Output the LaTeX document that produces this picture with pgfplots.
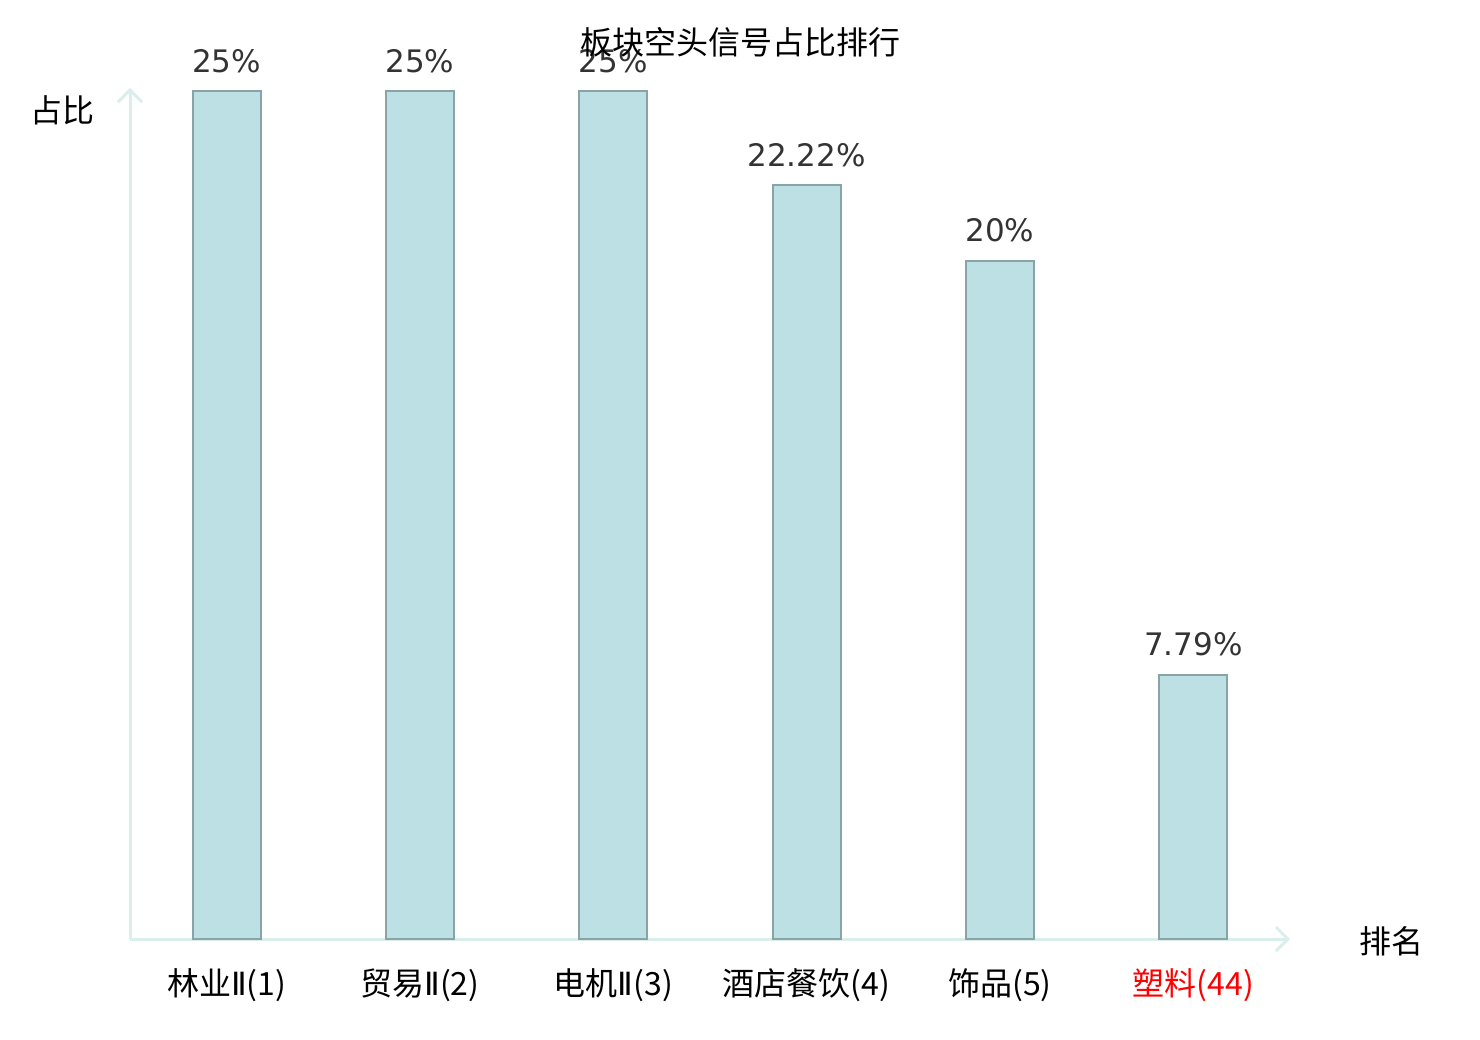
\documentclass[border=0pt]{standalone}
\usepackage{fontspec}
\setmainfont{DejaVu Sans}
\newfontfamily\cjk{Noto Sans CJK SC}
\newfontfamily\dv{DejaVu Sans}
\usepackage{pgfplots}
\pgfplotsset{compat=1.18}
\usetikzlibrary{arrows.meta}
\definecolor{barfill}{HTML}{BCE0E3}
\definecolor{baredge}{HTML}{88A4A6}
\definecolor{axcol}{HTML}{DAEFEC}
\definecolor{lab}{HTML}{333333}
\newcommand{\rII}{{\dv\fontsize{16}{19}\selectfont Ⅱ}}
\begin{document}
\begin{tikzpicture}[x=0.5pt,y=0.5pt]
\path[use as bounding box] (0,0) rectangle (1480,1040);
\begin{axis}[
  at={(65pt,50.5pt)}, anchor=south west,
  scale only axis, width=580pt, height=425.5pt,
  xmin=-0.5, xmax=5.5, ymin=0, ymax=25.09,
  axis lines=left,
  axis line style={draw=axcol, line width=1.5pt},
  x axis line style={-{Straight Barb[length=6pt,width=12pt,line width=1.5pt]}},
  y axis line style={-{Straight Barb[length=6pt,width=12pt,line width=1.5pt]}},
  xtick={0,1,2,3,4,5},
  xticklabels={林业\rII(1),贸易\rII(2),电机\rII(3),酒店餐饮(4),饰品(5),{\color{red}塑料(44)}},
  xticklabel style={font=\cjk\fontsize{16}{19}\selectfont, text=black, yshift=-11.5pt},
  ytick=\empty,
  major tick length=0pt,
  ybar, bar width=34pt,
  point meta=explicit symbolic,
  nodes near coords,
  every node near coord/.append style={font=\fontsize{15.5}{18}\selectfont, text=lab, anchor=base, yshift=9.5pt},
  clip=false,
]
\addplot[fill=barfill, draw=baredge, line width=1pt] coordinates {
  (0,25) [25\%]
  (1,25) [25\%]
  (2,25) [25\%]
  (3,22.22) [22.22\%]
  (4,20) [20\%]
  (5,7.79) [7.79\%]
};
\end{axis}
\node[font=\cjk\fontsize{16}{19}\selectfont] at (740,998) {板块空头信号占比排行};
\node[font=\cjk\fontsize{16}{19}\selectfont] at (63,930) {占比};
\node[font=\cjk\fontsize{16}{19}\selectfont] at (1391,99) {排名};
\end{tikzpicture}
\end{document}
